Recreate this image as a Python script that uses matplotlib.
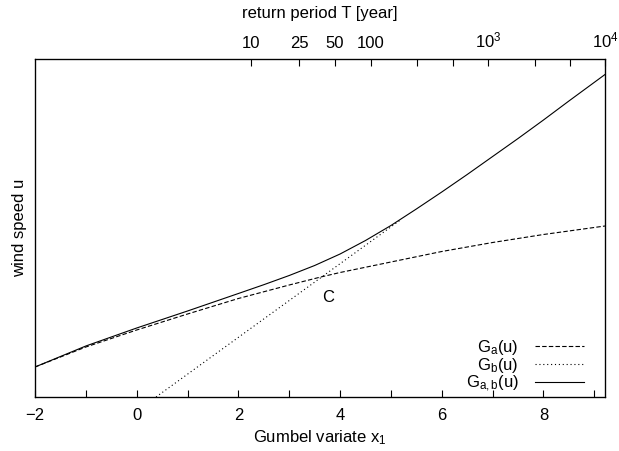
import numpy as np
import matplotlib
matplotlib.use("Agg")
import matplotlib.pyplot as plt

plt.rcParams['font.family'] = ['Liberation Sans', 'DejaVu Sans']
plt.rcParams['mathtext.fontset'] = 'custom'
plt.rcParams['mathtext.rm'] = 'Liberation Sans'
plt.rcParams['mathtext.it'] = 'Liberation Sans'
plt.rcParams['mathtext.default'] = 'regular'

# ---- data (u in arbitrary units) ----
xa = [-2, -1, 0, 1, 2, 3, 3.62, 4, 5, 6, 7, 8, 9.21]
ua = [30, 50, 67, 83, 98.5, 112, 120, 124.5, 135, 145.5, 154.5, 162.5, 171]

xb = [0.38, 5.2]
ub = [0, 177.5]

xab = [-2, -1, 0, 1, 2, 2.5, 3, 3.5, 4, 4.5, 5, 5.5, 6, 6.5, 7, 7.5, 8, 8.5, 9.21]
uab = [30, 51, 69, 86, 103.5, 112.3, 121.5, 131.5, 143, 156.5, 171.5, 188,
       205, 222.5, 240.5, 258.5, 277, 296, 322.5]

T_major = [10, 25, 50, 100, 1000, 10000]
T_labels = ['10', '25', '50', '100', r'$10^3$', r'$10^4$']
T_minor = [250, 500, 2500, 5000]

label_C = 'C'
pos_C = (3.77, 100)

fig = plt.figure(figsize=(6.19, 4.51), dpi=100)
ax = fig.add_axes([35/619, 54/451, 570/619, 338/451])

ax.plot(xa, ua, color='black', lw=0.8, linestyle=(0, (4, 2)), label=r'$G_a(u)$')
ax.plot(xb, ub, color='black', lw=0.8, linestyle=(0, (1, 2.5)), label=r'$G_b(u)$')
ax.plot(xab, uab, color='black', lw=0.8, linestyle='-', label=r'$G_{a,b}(u)$')

ax.set_xlim(-2, 9.21)
ax.set_ylim(0, 338)
ax.set_yticks([])
ax.set_xticks([-2, 0, 2, 4, 6, 8])
ax.set_xticks(np.arange(-2, 10, 1), minor=True)
ax.tick_params(axis='x', which='both', direction='in', length=5, width=0.8,
               labelsize=12, pad=8, top=False)
ax.set_xlabel(r'Gumbel variate $x_1$', fontsize=12, labelpad=4)
ax.set_ylabel('wind speed u', fontsize=12, labelpad=6)

for s in ax.spines.values():
    s.set_linewidth(0.9)

def gumbel_x(T):
    return -np.log(-np.log(1 - 1 / np.asarray(T, dtype=float)))

top = ax.twiny()
top.set_xlim(ax.get_xlim())
top.set_xticks(gumbel_x(T_major))
top.set_xticklabels(T_labels)
top.set_xticks(gumbel_x(T_minor), minor=True)
top.tick_params(axis='x', which='both', direction='in', length=5, width=0.8,
                labelsize=12, pad=6)
top.set_xlabel('return period T [year]', fontsize=12, labelpad=9)

ax.text(pos_C[0], pos_C[1], label_C, fontsize=12, ha='center', va='center')

leg = ax.legend(loc='lower right', markerfirst=False, frameon=False, fontsize=12,
                handlelength=2.9, handletextpad=1.0, labelspacing=-0.05,
                borderaxespad=0.0, bbox_to_anchor=(0.974, -0.012))
for t in leg.get_texts():
    t.set_ha('right')

fig.savefig('out.png', dpi=100)
